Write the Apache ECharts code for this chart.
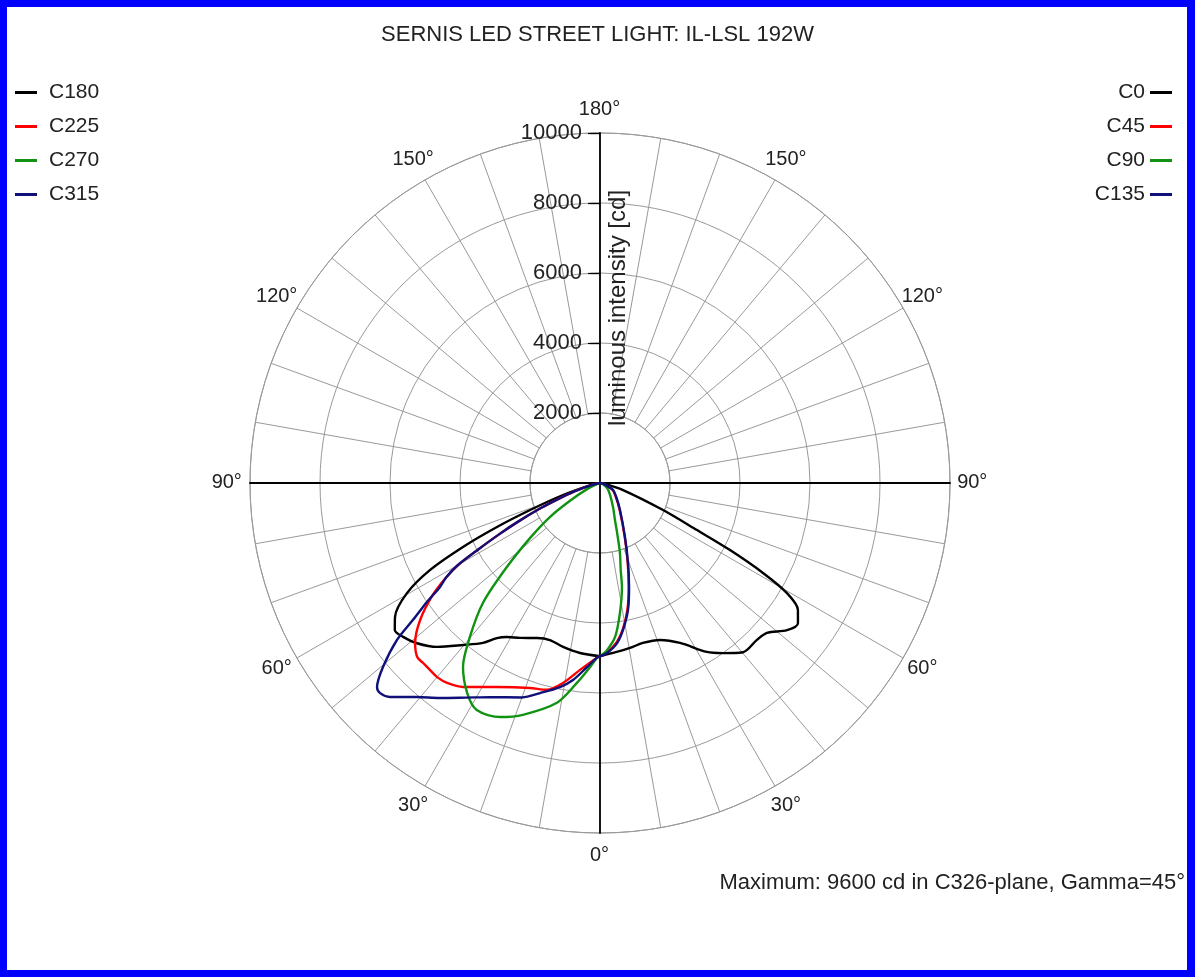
<!DOCTYPE html>
<html><head><meta charset="utf-8">
<script src="https://cdn.jsdelivr.net/npm/echarts@6/dist/echarts.min.js"></script>
<style>
html,body{margin:0;padding:0;background:#fff;}
#chart{position:absolute;left:0;top:0;width:1195px;height:977px;}
#frame{position:absolute;left:0;top:0;width:1195px;height:977px;box-sizing:border-box;border:7px solid #0000ff;border-right-width:8px;pointer-events:none;}
</style></head><body>
<div id="chart"></div><div id="frame"></div>
<script>
const TITLE = 'SERNIS LED STREET LIGHT: IL-LSL 192W';
const NOTE = 'Maximum: 9600 cd in C326-plane, Gamma=45°';
const AXIS_NAME = 'luminous intensity [cd]';
const RADIUS_MIN_GRID = 2000;
const RADIUS_MAX = 10000;
const RADIUS_STEP = 2000;
const GAMMA_TICKS = [0, 30, 60, 90, 120, 150, 180];
const rightPlanes = ['C0', 'C45', 'C90', 'C135'];
const leftPlanes = ['C180', 'C225', 'C270', 'C315'];
const planeColors = ['#000000', '#ff0000', '#129212', '#10107a'];

// [gamma (deg), luminous intensity (cd)]
const C0 = [[0,4950],[4.4,4870],[10.3,4790],[15,4730],[20.9,4800],[26.6,5110],[32.3,5710],[35.9,6000],[40.2,6330],[45,6340],[48.1,6410],[51.8,6800],[54.7,6930],[57.3,6720],[59.5,6200],[61.1,5320],[62.7,4180],[64.1,3080],[66.8,1960],[73,690],[80,150],[90,0]];
const C45 = [[0,4950],[2.4,4840],[6,4570],[9,4210],[12.4,3670],[15.6,3050],[19.3,2390],[24.8,1680],[36.5,940],[50,580],[62,400],[75,110],[90,0]];
const C90 = [[0,4950],[2.4,4780],[5.6,4420],[8.7,3760],[11.9,3040],[13.4,2550],[15.9,2080],[19,1500],[22,1140],[28,800],[40,450],[55,250],[70,80],[90,0]];
const C135 = [[0,4950],[2.4,4860],[6.1,4600],[8.9,4250],[12.4,3720],[15.6,3090],[19.3,2420],[24.8,1700],[36.5,960],[50,600],[62,420],[75,120],[90,0]];
const C180 = [[0,4950],[6.7,4890],[12.7,4800],[17.7,4710],[22.1,4780],[27.3,4980],[31.1,5140],[33.6,5320],[36.2,5660],[40.2,6060],[44.8,6600],[48.8,6950],[52,7140],[54.4,7210],[56.8,7000],[60.3,6350],[62.9,5460],[65,4320],[66.9,3200],[68.9,2140],[72,1110],[78,250],[90,0]];
const C225 = [[0,4950],[1,4990],[6.1,5370],[10.5,5810],[14.4,6100],[18.9,6190],[26.8,6530],[33.9,7020],[37.4,7190],[40,7240],[42.3,7220],[44.5,7210],[46.4,7210],[49.1,6990],[52.7,6460],[56.2,5750],[58.5,5150],[60,4650],[61.3,4000],[63,3250],[64.7,2600],[67,1850],[69,1300],[72,750],[76,300],[90,0]];
const C270 = [[0,4950],[1,5000],[3.1,5270],[6.6,5750],[11.1,6400],[18.4,6980],[23.1,7270],[28.5,7380],[32.3,7100],[36.7,6550],[40.2,5760],[44.3,4790],[47.9,3600],[52,2500],[56,1700],[60,900],[65,380],[72,100],[90,0]];
const C315 = [[0,4950],[1,4990],[4,5270],[7.8,5680],[11.1,5940],[15.9,6240],[20,6520],[27.2,6880],[32,7230],[36.7,7660],[40.5,8040],[44.5,8570],[46.3,8690],[47.5,8640],[49.7,8130],[52.3,7330],[53.8,6620],[55.5,6000],[57,5450],[58.5,5150],[60,4700],[61.3,4000],[63,3250],[64.7,2600],[67,1850],[69,1300],[72,750],[76,300],[90,0]];

const rightData = [C0, C45, C90, C135];
const leftData = [C180, C225, C270, C315];

const FONT = '"Liberation Sans", Arial, Helvetica, sans-serif';
const TEXT_COLOR = '#222222';
const GRID_COLOR = '#9a9a9a';
const AXIS_COLOR = '#000000';
const CENTER = [600, 483];
const R_OUT = 350;
const R_IN = 70;
const LABEL_R = 10650;

const toRight = arr => arr.map(p => [p[1], p[0]]);
const toLeft = arr => arr.map(p => [p[1], 360 - p[0]]);

const hiddenAngle = (idx, start) => ({
  polarIndex: idx, type: 'value', min: 0, max: 360, startAngle: start, clockwise: false,
  axisLine: {show: false}, axisTick: {show: false}, axisLabel: {show: false}, splitLine: {show: false}
});
const blackRadius = (idx) => ({
  polarIndex: idx, type: 'value', min: 0, max: RADIUS_MAX, z: 4,
  axisLine: {show: true, lineStyle: {color: AXIS_COLOR, width: 1.8}},
  axisTick: {show: false}, axisLabel: {show: false}, splitLine: {show: false}
});

const labelData = [];
GAMMA_TICKS.forEach(g => {
  labelData.push({name: g + '°', value: [LABEL_R, g]});
  if (g !== 0 && g !== 180) labelData.push({name: g + '°', value: [LABEL_R, 360 - g]});
});

const series = [];
for (let i = 0; i < 4; i++) {
  [[rightPlanes[i], toRight(rightData[i])], [leftPlanes[i], toLeft(leftData[i])]].forEach(([name, data]) => {
    series.push({
      name, type: 'line', coordinateSystem: 'polar', polarIndex: 0,
      data, symbol: 'none', smooth: 0.3, z: 5 + i,
      lineStyle: {color: planeColors[i], width: 2.4},
      itemStyle: {color: planeColors[i]}
    });
  });
}
series.push({
  name: 'gamma labels', type: 'scatter', coordinateSystem: 'polar', polarIndex: 0,
  data: labelData, symbolSize: 1, clip: false, silent: true, z: 10,
  itemStyle: {color: '#ffffff', opacity: 1},
  label: {show: true, position: [0, 0], align: 'center', verticalAlign: 'middle', formatter: '{b}',
          fontFamily: FONT, fontSize: 20, color: TEXT_COLOR, textBorderWidth: 0, opacity: 1}
});

const legendText = {fontFamily: FONT, fontSize: 21, color: TEXT_COLOR};

const option = {
  animation: false,
  backgroundColor: '#ffffff',
  title: [
    {text: TITLE, left: 'center', top: 24, padding: 0, textStyle: {fontFamily: FONT, fontSize: 22, fontWeight: 'normal', color: TEXT_COLOR}},
    {text: NOTE, right: 10, top: 872, padding: 0, textStyle: {fontFamily: FONT, fontSize: 22, fontWeight: 'normal', color: TEXT_COLOR}}
  ],
  legend: [
    {data: leftPlanes, orient: 'vertical', left: 10, top: 77, icon: 'rect', itemWidth: 22, itemHeight: 3, itemGap: 13, selectedMode: false,
     textStyle: Object.assign({padding: [0, 0, 0, 7]}, legendText)},
    {data: rightPlanes, orient: 'vertical', right: 18, top: 77, align: 'right', icon: 'rect', itemWidth: 22, itemHeight: 3, itemGap: 13, selectedMode: false,
     textStyle: Object.assign({padding: [0, 0, 0, 0]}, legendText)}
  ],
  polar: [
    {center: CENTER, radius: R_OUT},
    {center: CENTER, radius: [R_IN, R_OUT]},
    {center: CENTER, radius: R_OUT},
    {center: CENTER, radius: R_OUT},
    {center: CENTER, radius: R_OUT}
  ],
  angleAxis: [
    hiddenAngle(0, 270),
    {polarIndex: 1, type: 'value', min: 0, max: 360, interval: 10, startAngle: 90, z: 1,
     axisLine: {show: true, lineStyle: {color: GRID_COLOR, width: 1}},
     axisTick: {show: false}, axisLabel: {show: false},
     splitLine: {show: true, lineStyle: {color: GRID_COLOR, width: 1}}},
    hiddenAngle(2, 90),
    hiddenAngle(3, 0),
    hiddenAngle(4, 180)
  ],
  radiusAxis: [
    blackRadius(0),
    {polarIndex: 1, type: 'value', min: RADIUS_MIN_GRID, max: RADIUS_MAX, interval: RADIUS_STEP, z: 1,
     axisLine: {show: false},
     axisTick: {show: true, inside: true, length: 10, lineStyle: {color: AXIS_COLOR, width: 1.2}},
     axisLabel: {show: false},
     splitLine: {show: true, lineStyle: {color: GRID_COLOR, width: 1}}},
    {polarIndex: 2, type: 'value', min: 0, max: RADIUS_MAX, interval: RADIUS_STEP, z: 4,
     axisLine: {show: true, lineStyle: {color: AXIS_COLOR, width: 1.8}},
     axisTick: {show: true, length: 12, lineStyle: {color: AXIS_COLOR, width: 1.2}},
     axisLabel: {show: true, margin: 18, fontFamily: FONT, fontSize: 22, color: TEXT_COLOR,
                 formatter: v => (v === 0 ? '' : String(v))},
     splitLine: {show: false},
     name: AXIS_NAME, nameLocation: 'middle', nameGap: 6,
     nameTextStyle: {fontFamily: FONT, fontSize: 24, color: TEXT_COLOR}},
    blackRadius(3),
    blackRadius(4)
  ],
  series
};

const chart = echarts.init(document.getElementById('chart'), null, {renderer: 'canvas'});
chart.setOption(option);
</script>
</body></html>
